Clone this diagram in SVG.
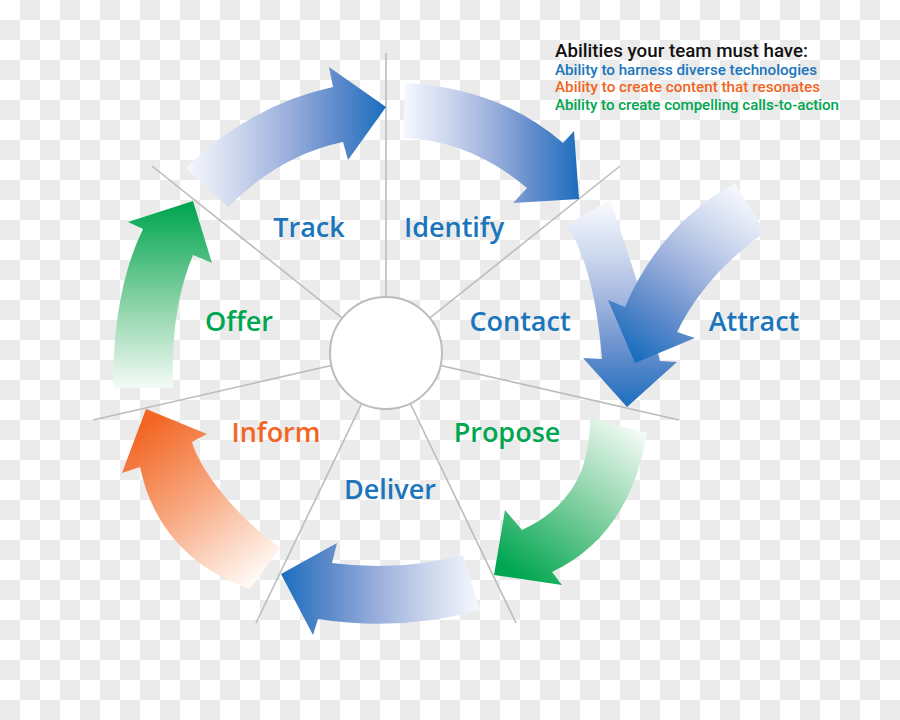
<svg xmlns="http://www.w3.org/2000/svg" xmlns:xlink="http://www.w3.org/1999/xlink" width="900" height="720" viewBox="0 0 900 720">
<defs>
  <pattern id="checker" width="40" height="40" patternUnits="userSpaceOnUse">
    <rect width="40" height="40" fill="#ffffff"/>
    <rect x="20" y="0" width="20" height="20" fill="#ebebeb"/>
    <rect x="0" y="20" width="20" height="20" fill="#ebebeb"/>
  </pattern>
  <linearGradient id="gBlue">
    <stop offset="0" stop-color="#f6f8fd"/>
    <stop offset="0.25" stop-color="#cdd8ee"/>
    <stop offset="0.5" stop-color="#9db1dd"/>
    <stop offset="0.75" stop-color="#5f8bcb"/>
    <stop offset="1" stop-color="#1b6ebe"/>
  </linearGradient>
  <linearGradient id="gGreen">
    <stop offset="0" stop-color="#f4fbf6"/>
    <stop offset="0.5" stop-color="#80cfa0"/>
    <stop offset="1" stop-color="#00a651"/>
  </linearGradient>
  <linearGradient id="gOrange">
    <stop offset="0" stop-color="#fff8f3"/>
    <stop offset="0.5" stop-color="#f8ab85"/>
    <stop offset="1" stop-color="#f26522"/>
  </linearGradient>
  <linearGradient id="a1" href="#gBlue" xlink:href="#gBlue" gradientUnits="userSpaceOnUse" x1="186" y1="0" x2="386" y2="0"/>
  <linearGradient id="a2" href="#gBlue" xlink:href="#gBlue" gradientUnits="userSpaceOnUse" x1="403" y1="0" x2="579" y2="0"/>
  <linearGradient id="a3" href="#gBlue" xlink:href="#gBlue" gradientUnits="userSpaceOnUse" x1="0" y1="205" x2="0" y2="407"/>
  <linearGradient id="a3b" href="#gBlue" xlink:href="#gBlue" gradientUnits="userSpaceOnUse" x1="755" y1="200" x2="640" y2="360"/>
  <linearGradient id="a4" href="#gGreen" xlink:href="#gGreen" gradientUnits="userSpaceOnUse" x1="625" y1="420" x2="510" y2="570"/>
  <linearGradient id="a5" href="#gBlue" xlink:href="#gBlue" gradientUnits="userSpaceOnUse" x1="480" y1="0" x2="281" y2="0"/>
  <linearGradient id="a6" href="#gOrange" xlink:href="#gOrange" gradientUnits="userSpaceOnUse" x1="265" y1="570" x2="150" y2="420"/>
  <linearGradient id="a7" href="#gGreen" xlink:href="#gGreen" gradientUnits="userSpaceOnUse" x1="0" y1="388" x2="0" y2="205"/>
</defs>
<style>
  .spoke { stroke: #bcbcbc; stroke-width: 1.6; fill: none; }
  .hub { fill: #ffffff; stroke: #bcbcbc; stroke-width: 2; }
  .lbl { font-family: "Open Sans", "Liberation Sans", sans-serif; font-weight: 600; font-size: 27px; text-anchor: middle; }
  .blue { fill: #1a75bc; }
  .green { fill: #00a650; }
  .orange { fill: #f26522; }
  .leg { font-family: Roboto, "Liberation Sans", Arial, sans-serif; font-weight: 500; font-size: 14.5px; }
  .title { font-family: Roboto, "Liberation Sans", Arial, sans-serif; font-weight: 500; font-size: 17.5px; fill: #111111; }
</style>
<rect width="900" height="720" fill="url(#checker)"/>

<g id="spokes">
  <line class="spoke" x1="386" y1="353" x2="386" y2="53"/>
  <line class="spoke" x1="386" y1="353" x2="620" y2="166"/>
  <line class="spoke" x1="386" y1="353" x2="679" y2="420"/>
  <line class="spoke" x1="386" y1="353" x2="516" y2="623"/>
  <line class="spoke" x1="386" y1="353" x2="256" y2="623"/>
  <line class="spoke" x1="386" y1="353" x2="93" y2="420"/>
  <line class="spoke" x1="386" y1="353" x2="152" y2="166"/>
</g>

<g id="hub">
  <circle class="hub" cx="386" cy="353" r="56"/>
</g>

<g id="connectors">
  <path fill="url(#a1)" d="M186,168 Q250,105 333,87 L329,67 L386,107 L348,160 L343,142 Q280,155 228,207 Z"/>
  <path fill="url(#a2)" d="M405,83 Q500,88 563,143 L574,131 L579,199 L513,203 L527,188 Q470,140 403,138 Z"/>
  <path fill="url(#a3)" d="M567,225 L610,200 Q635,270 660,361 L677,362 L627,407 L583,358 L602,359 Q595,270 567,225 Z"/>
  <path fill="url(#a3b)" d="M735,183 L765,232 Q705,275 677,332 L695,338 L635,363 L608,300 L625,307 Q660,225 735,183 Z"/>
  <path fill="url(#a4)" d="M590,418 L647,433 Q630,535 552,572 L562,585 L494,575 L505,510 L522,530 C575,505 590,465 590,418 Z"/>
  <path fill="url(#a5)" d="M463,555 L480,610 Q400,632 318,619 L313,635 L281,574 L337,543 L332,563 Q400,572 463,555 Z"/>
  <path fill="url(#a6)" d="M146,409 L207,434 L192,442 C200,470 235,515 280,548 L250,589 C180,565 150,515 140,467 L122,473 Z"/>
  <path fill="url(#a7)" d="M128,222 L193,201 L212,263 L193,255 Q170,310 173,388 L113,388 Q113,290 143,229 Z"/>
</g>

<g id="node-track"><text class="lbl blue" x="309" y="237">Track</text></g>
<g id="node-identify"><text class="lbl blue" x="454" y="237">Identify</text></g>
<g id="node-contact"><text class="lbl blue" x="520" y="331">Contact</text></g>
<g id="node-attract"><text class="lbl blue" x="754" y="331">Attract</text></g>
<g id="node-propose"><text class="lbl green" x="507" y="442">Propose</text></g>
<g id="node-deliver"><text class="lbl blue" x="390" y="499">Deliver</text></g>
<g id="node-inform"><text class="lbl orange" x="276" y="442">Inform</text></g>
<g id="node-offer"><text class="lbl green" x="239" y="331">Offer</text></g>

<g id="legend">
  <text class="title" x="555" y="57" textLength="253" lengthAdjust="spacingAndGlyphs">Abilities your team must have:</text>
  <text class="leg blue" x="555" y="75" textLength="262" lengthAdjust="spacingAndGlyphs">Ability to harness diverse technologies</text>
  <text class="leg orange" x="555" y="92" textLength="265" lengthAdjust="spacingAndGlyphs">Ability to create content that resonates</text>
  <text class="leg green" x="555" y="110" textLength="284" lengthAdjust="spacingAndGlyphs">Ability to create compelling calls-to-action</text>
</g>
</svg>
